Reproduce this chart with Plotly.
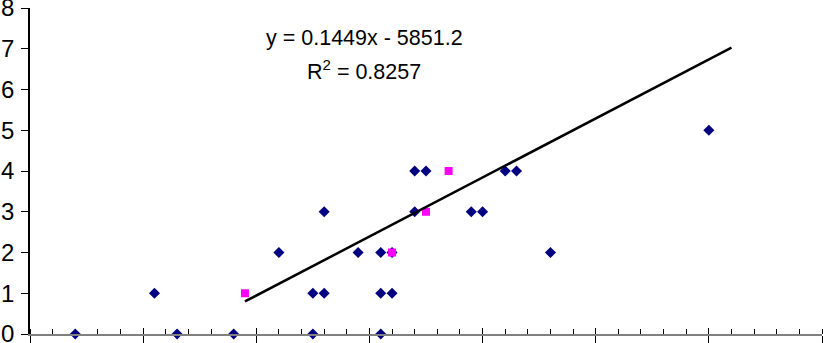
import numpy as np
import plotly.graph_objects as go

# Data (x as Excel serial day numbers)
blue_x = [40372, 40379, 40381, 40386, 40390, 40393, 40393, 40394, 40394, 40397,
          40399, 40399, 40399, 40400, 40400, 40402, 40402, 40403, 40407, 40408,
          40410, 40411, 40414, 40428]
blue_y = [0, 1, 0, 0, 2, 0, 1, 1, 3, 2,
          0, 1, 2, 1, 2, 3, 4, 4, 3, 3,
          4, 4, 2, 5]
pink_x = [40387, 40400, 40403, 40405]
pink_y = [1, 2, 3, 4]
trend_end_x = 40430
eq_line1 = "y = 0.1449x - 5851.2"
eq_line2 = "R<sup>2</sup> = 0.8257"
x_min, x_max = 40368, 40438
y_ticks = [0, 1, 2, 3, 4, 5, 6, 7, 8]

slope, intercept = np.polyfit(pink_x, pink_y, 1)
tx = np.array([min(pink_x), trend_end_x], dtype=float)
ty = slope * tx + intercept

fig = go.Figure()
fig.add_trace(go.Scatter(x=blue_x, y=blue_y, mode="markers",
                         marker=dict(symbol="diamond", size=8.5, color="#000080"),
                         showlegend=False, cliponaxis=False))
fig.add_trace(go.Scatter(x=pink_x, y=pink_y, mode="markers",
                         marker=dict(symbol="square", size=8, color="#FF00FF"),
                         showlegend=False, cliponaxis=False))
fig.add_trace(go.Scatter(x=tx, y=ty, mode="lines",
                         line=dict(color="black", width=2.5),
                         showlegend=False))

font = "Liberation Sans, Arial, sans-serif"
fig.update_layout(
    width=823, height=343,
    margin=dict(l=30, r=1, t=8, b=9, autoexpand=False),
    paper_bgcolor="white", plot_bgcolor="white",
    font=dict(family=font, color="black"),
    hovermode=False,
    xaxis=dict(range=[x_min, x_max], showgrid=False, zeroline=False,
               automargin=False,
               showline=True, linecolor="#808080", linewidth=1.5,
               tick0=x_min, dtick=10, ticks="outside", ticklen=7,
               tickcolor="black", tickwidth=1.2, showticklabels=False,
               minor=dict(tick0=x_min, dtick=2, ticks="inside", ticklen=5,
                          tickcolor="black", tickwidth=1.2)),
    xaxis2=dict(range=[x_min, x_max], overlaying="x", matches="x",
                automargin=False,
                showgrid=False, zeroline=False, showline=False,
                tick0=x_min, dtick=10, ticks="inside", ticklen=6,
                tickcolor="black", tickwidth=1.2, showticklabels=False,
                side="bottom"),
    yaxis=dict(range=[0, 8], tickvals=y_ticks, showgrid=False, zeroline=False,
               automargin=False, ticklabeloverflow="allow",
               showline=True, linecolor="black", linewidth=1.5,
               ticks="outside", ticklen=7, tickcolor="black", tickwidth=1.2,
               ticklabelstandoff=2,
               tickfont=dict(size=24, family=font, color="black")),
    annotations=[
        dict(text=eq_line1, xref="paper", yref="paper", x=0.422, y=0.908,
             xanchor="center", yanchor="middle", showarrow=False,
             font=dict(size=21.5, family=font, color="black")),
        dict(text=eq_line2, xref="paper", yref="paper", x=0.422, y=0.810,
             xanchor="center", yanchor="middle", showarrow=False,
             font=dict(size=21.5, family=font, color="black")),
    ],
)
# dummy trace to activate xaxis2
fig.add_trace(go.Scatter(x=[x_min], y=[None], xaxis="x2", showlegend=False,
                         hoverinfo="skip", mode="markers"))

fig.write_html("out.html", config={"displayModeBar": False},
               post_script="document.body.style.margin='0';document.body.style.overflow='hidden';")
